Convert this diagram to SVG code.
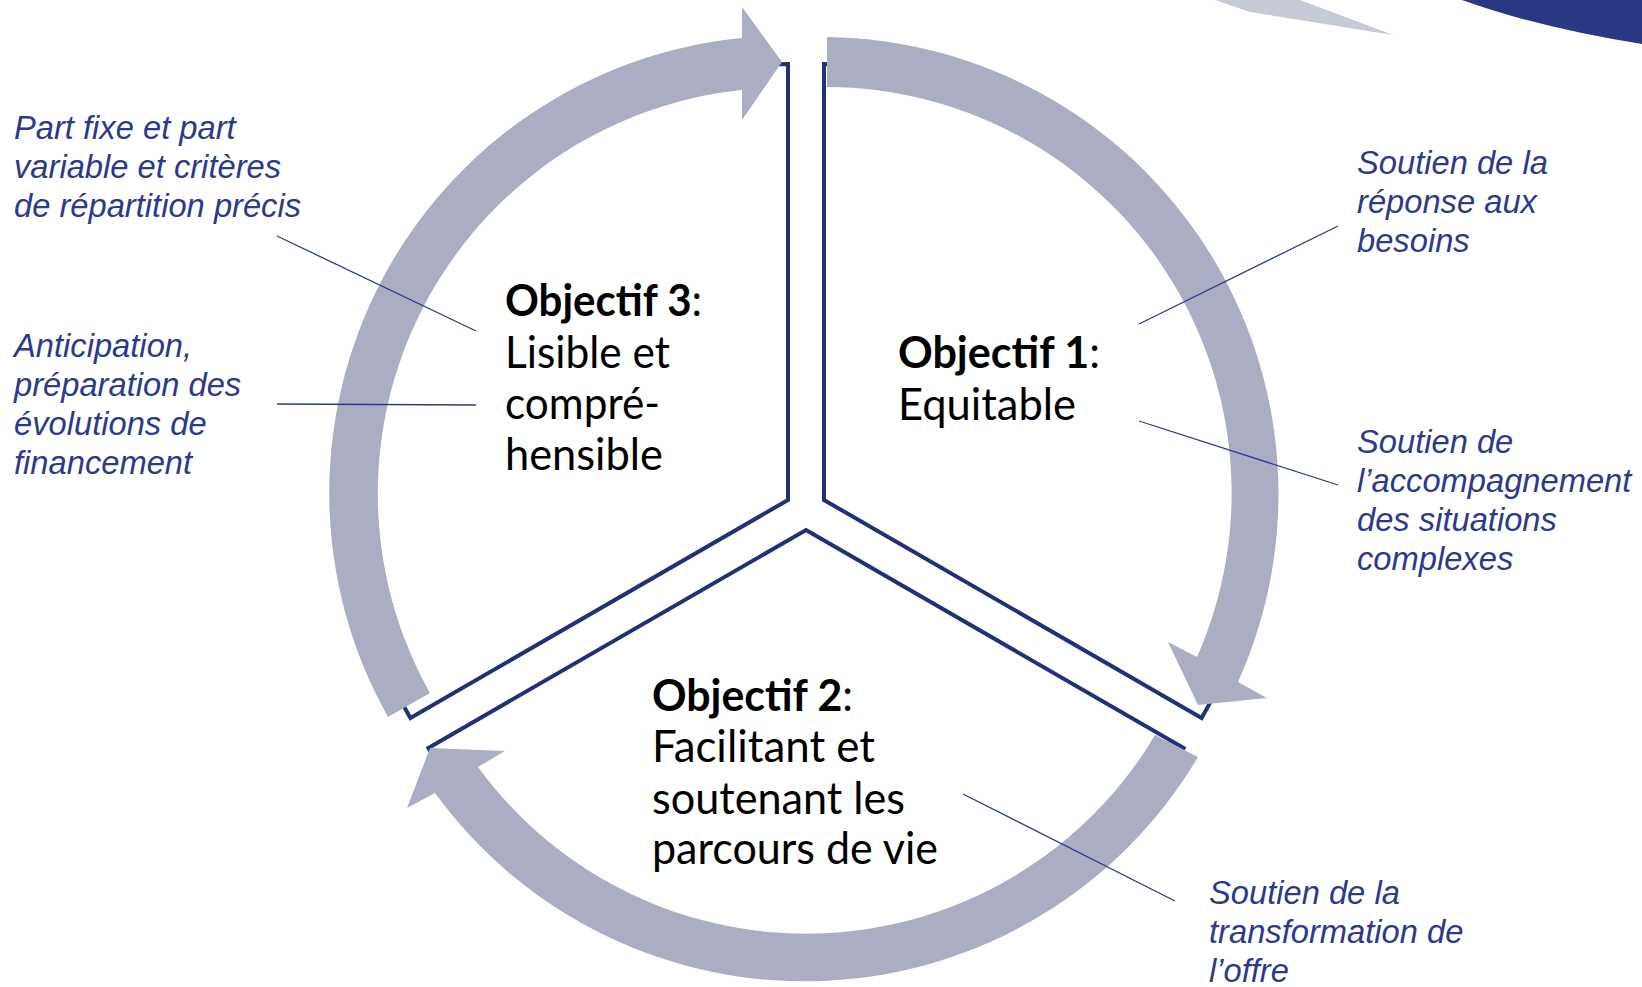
<svg xmlns="http://www.w3.org/2000/svg" width="1642" height="987" viewBox="0 0 1642 987">
<style>
.ring{fill:#ABAEC2;stroke:none}
.sector{fill:none;stroke:#223078;stroke-width:4;stroke-linejoin:miter}
.leader{stroke:#2B3A8C;stroke-width:1.3;fill:none}
.note{font-family:"Liberation Sans",Arial,sans-serif;font-style:italic;font-size:32.7px;fill:#2B3A8C}
.obj{font-family:Lato,"Open Sans",sans-serif;font-size:44px;fill:#000}
.b{font-weight:bold}
</style>
<rect width="1642" height="987" fill="#fff"/>
<g id="decor">
<path d="M1215,0 L1300,0 L1393,35 L1250,12 Q1232,6 1215,0 Z" fill="#C6CAD4"/>
<path d="M1462,0 Q1540,28 1642,44 L1642,0 Z" fill="#2A3782"/>
</g>
<g id="sectors">
<path id="sector1" class="sector" d="M824,500 L824,64 A436 436 0 0 1 1201.6,718 Z"/>
<path id="sector3" class="sector" d="M788,500 L410.4,718 A436 436 0 0 1 788,64 Z"/>
<path id="sector2" class="sector" d="M806,530 L1183.6,748 A436 436 0 0 1 428.4,748 Z"/>
</g>
<g id="connectors">
<path id="arrowA" class="ring" d="M388,717 A457 457 0 0 1 742,38 L742,7 L782,62 L742,120 L742,90 A406 406 0 0 0 430,693 Z"/>
<path id="arrowB" class="ring" d="M827,37 A457 457 0 0 1 1238,682 L1267,698 L1198,705 L1168,642 L1197,657 A406 406 0 0 0 827,87 Z"/>
<path id="arrowC" class="ring" d="M1198,757 A457 457 0 0 1 435,793 L407,808 L430,748 L505,751 L478,767 A406 406 0 0 0 1155,735 Z"/>
<line class="leader" x1="277" y1="236" x2="476" y2="331"/>
<line class="leader" x1="277" y1="404" x2="476" y2="405"/>
<line class="leader" x1="1338" y1="226" x2="1139" y2="324"/>
<line class="leader" x1="1139" y1="421" x2="1338" y2="485"/>
<line class="leader" x1="963" y1="794" x2="1175" y2="901"/>
</g>
<g id="objectif3">
<text class="obj" x="505" y="316" textLength="197" lengthAdjust="spacingAndGlyphs"><tspan class="b">Objectif 3</tspan>:</text>
<text class="obj" x="505" y="368" textLength="165" lengthAdjust="spacingAndGlyphs">Lisible et</text>
<text class="obj" x="505" y="419" textLength="155" lengthAdjust="spacingAndGlyphs">compré-</text>
<text class="obj" x="505" y="470" textLength="158" lengthAdjust="spacingAndGlyphs">hensible</text>
</g>
<g id="objectif1">
<text class="obj" x="898" y="368" textLength="202" lengthAdjust="spacingAndGlyphs"><tspan class="b">Objectif 1</tspan>:</text>
<text class="obj" x="898" y="420" textLength="178" lengthAdjust="spacingAndGlyphs">Equitable</text>
</g>
<g id="objectif2">
<text class="obj" x="652" y="711" textLength="201" lengthAdjust="spacingAndGlyphs"><tspan class="b">Objectif 2</tspan>:</text>
<text class="obj" x="652" y="762" textLength="223" lengthAdjust="spacingAndGlyphs">Facilitant et</text>
<text class="obj" x="652" y="814" textLength="253" lengthAdjust="spacingAndGlyphs">soutenant les</text>
<text class="obj" x="652" y="864" textLength="286" lengthAdjust="spacingAndGlyphs">parcours de vie</text>
</g>
<g id="note-part-fixe">
<text class="note" x="14" y="139">Part fixe et part</text>
<text class="note" x="14" y="178">variable et critères</text>
<text class="note" x="14" y="217">de répartition précis</text>
</g>
<g id="note-anticipation">
<text class="note" x="14" y="357">Anticipation,</text>
<text class="note" x="14" y="396">préparation des</text>
<text class="note" x="14" y="435">évolutions de</text>
<text class="note" x="14" y="474">financement</text>
</g>
<g id="note-besoins">
<text class="note" x="1357" y="174">Soutien de la</text>
<text class="note" x="1357" y="213">réponse aux</text>
<text class="note" x="1357" y="252">besoins</text>
</g>
<g id="note-accompagnement">
<text class="note" x="1357" y="453">Soutien de</text>
<text class="note" x="1357" y="492">l’accompagnement</text>
<text class="note" x="1357" y="531">des situations</text>
<text class="note" x="1357" y="570">complexes</text>
</g>
<g id="note-transformation">
<text class="note" x="1209" y="904">Soutien de la</text>
<text class="note" x="1209" y="943">transformation de</text>
<text class="note" x="1209" y="982">l’offre</text>
</g>
</svg>
